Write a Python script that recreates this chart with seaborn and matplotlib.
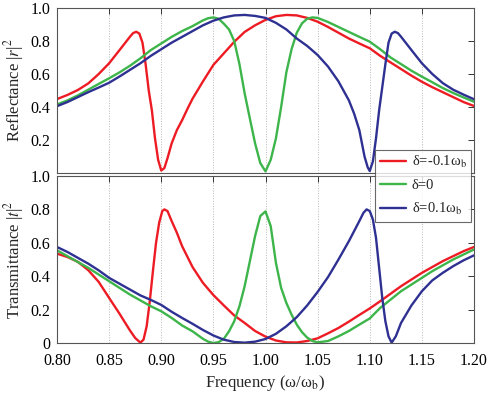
import numpy as np
import pandas as pd
import matplotlib
matplotlib.use('Agg')
import matplotlib.pyplot as plt
import seaborn as sns

# reflectance |r|^2
refl_m_f = [0.80, 0.81, 0.82, 0.83, 0.84, 0.85, 0.86, 0.87, 0.873, 0.876, 0.879, 0.882, 0.885, 0.888,
            0.891, 0.894, 0.897, 0.90, 0.903, 0.906, 0.91, 0.915, 0.92, 0.926, 0.93, 0.94, 0.95, 0.96,
            0.97, 0.98, 0.99, 1.00, 1.01, 1.02, 1.03, 1.04, 1.05, 1.06, 1.07, 1.08, 1.09, 1.10, 1.11,
            1.12, 1.13, 1.14, 1.15, 1.16, 1.17, 1.18, 1.19, 1.20]
refl_m = [0.448, 0.473, 0.503, 0.543, 0.60, 0.665, 0.745, 0.826, 0.848, 0.856, 0.845, 0.79, 0.66, 0.50,
          0.38, 0.21, 0.08, 0.015, 0.03, 0.09, 0.18, 0.26, 0.32, 0.40, 0.45, 0.555, 0.655, 0.725,
          0.795, 0.855, 0.895, 0.928, 0.95, 0.958, 0.955, 0.94, 0.917, 0.885, 0.85, 0.815, 0.785, 0.756, 0.71,
          0.67, 0.63, 0.59, 0.553, 0.52, 0.49, 0.46, 0.43, 0.406]

refl_0_f = [0.80, 0.81, 0.82, 0.83, 0.84, 0.85, 0.86, 0.87, 0.88, 0.89, 0.90, 0.91, 0.92, 0.93, 0.94,
            0.945, 0.95, 0.955, 0.96, 0.965, 0.97, 0.975, 0.98, 0.985, 0.99, 0.995, 1.00, 1.005, 1.01,
            1.015, 1.02, 1.025, 1.03, 1.035, 1.04, 1.045, 1.05, 1.06, 1.07, 1.08, 1.09, 1.10, 1.11,
            1.12, 1.13, 1.14, 1.15, 1.16, 1.17, 1.18, 1.19, 1.20]
refl_0 = [0.415, 0.44, 0.47, 0.505, 0.54, 0.574, 0.61, 0.65, 0.695, 0.745, 0.785, 0.825, 0.86, 0.89, 0.925,
          0.938, 0.943, 0.935, 0.905, 0.87, 0.80, 0.66, 0.483, 0.33, 0.18, 0.06, 0.01, 0.08, 0.21,
          0.40, 0.61, 0.75, 0.85, 0.907, 0.935, 0.943, 0.94, 0.915, 0.885, 0.855, 0.825, 0.796, 0.75,
          0.70, 0.66, 0.62, 0.584, 0.55, 0.515, 0.485, 0.458, 0.432]

refl_p_f = [0.80, 0.81, 0.82, 0.83, 0.84, 0.85, 0.86, 0.87, 0.88, 0.89, 0.90, 0.91, 0.92, 0.93, 0.94,
            0.95, 0.96, 0.97, 0.98, 0.99, 1.00, 1.01, 1.02, 1.03, 1.04, 1.05, 1.06, 1.07, 1.08, 1.085,
            1.09, 1.095, 1.098, 1.10, 1.103, 1.106, 1.109, 1.112, 1.115, 1.118, 1.121, 1.124, 1.127,
            1.13, 1.14, 1.15, 1.16, 1.17, 1.18, 1.19, 1.20]
refl_p = [0.405, 0.43, 0.46, 0.49, 0.518, 0.547, 0.585, 0.625, 0.665, 0.71, 0.75, 0.79, 0.825, 0.86, 0.895,
          0.923, 0.943, 0.955, 0.958, 0.952, 0.94, 0.91, 0.87, 0.815, 0.77, 0.715, 0.645, 0.555, 0.44, 0.36,
          0.26, 0.10, 0.035, 0.012, 0.07, 0.21, 0.38, 0.52, 0.66, 0.79, 0.845, 0.856, 0.848,
          0.826, 0.745, 0.665, 0.60, 0.545, 0.505, 0.475, 0.447]

# transmittance |t|^2
trans_m_f = [0.80, 0.81, 0.82, 0.83, 0.84, 0.85, 0.86, 0.87, 0.875, 0.88, 0.883, 0.886, 0.889, 0.892,
             0.895, 0.898, 0.901, 0.903, 0.906, 0.91, 0.915, 0.92, 0.93, 0.94, 0.95, 0.96, 0.97, 0.98,
             0.99, 1.00, 1.01, 1.02, 1.03, 1.04, 1.05, 1.06, 1.07, 1.08, 1.09, 1.10, 1.11, 1.12, 1.13,
             1.14, 1.15, 1.16, 1.17, 1.18, 1.19, 1.20]
trans_m = [0.535, 0.515, 0.486, 0.436, 0.366, 0.27, 0.175, 0.075, 0.03, 0.002, 0.02, 0.10, 0.25, 0.43,
           0.60, 0.72, 0.79, 0.80, 0.79, 0.73, 0.66, 0.58, 0.455, 0.36, 0.287, 0.225, 0.165, 0.12,
           0.072, 0.038, 0.015, 0.004, 0.003, 0.012, 0.028, 0.058, 0.09, 0.128, 0.168, 0.207, 0.25, 0.295, 0.34,
           0.38, 0.42, 0.455, 0.49, 0.52, 0.55, 0.575]

trans_0_f = [0.80, 0.81, 0.82, 0.83, 0.84, 0.85, 0.86, 0.87, 0.88, 0.89, 0.90, 0.91, 0.92, 0.93, 0.94,
             0.945, 0.95, 0.955, 0.96, 0.965, 0.97, 0.975, 0.98, 0.985, 0.99, 0.995, 1.00, 1.005, 1.01,
             1.015, 1.02, 1.025, 1.03, 1.035, 1.04, 1.045, 1.05, 1.06, 1.07, 1.08, 1.09, 1.10, 1.11,
             1.12, 1.13, 1.14, 1.15, 1.16, 1.17, 1.18, 1.19, 1.20]
trans_0 = [0.555, 0.52, 0.485, 0.45, 0.41, 0.37, 0.33, 0.29, 0.255, 0.22, 0.19, 0.15, 0.105, 0.07, 0.025,
           0.008, 0.0, 0.005, 0.025, 0.07, 0.13, 0.22, 0.34, 0.49, 0.64, 0.76, 0.788, 0.70, 0.48,
           0.33, 0.24, 0.17, 0.11, 0.065, 0.032, 0.012, 0.004, 0.012, 0.04, 0.072, 0.11, 0.147, 0.21,
           0.26, 0.31, 0.35, 0.39, 0.43, 0.465, 0.50, 0.53, 0.56]

trans_p_f = [0.80, 0.81, 0.82, 0.83, 0.84, 0.85, 0.86, 0.87, 0.88, 0.89, 0.90, 0.91, 0.92, 0.93, 0.94,
             0.95, 0.96, 0.97, 0.98, 0.99, 1.00, 1.01, 1.02, 1.03, 1.04, 1.05, 1.06, 1.07, 1.08, 1.09,
             1.094, 1.097, 1.10, 1.103, 1.106, 1.109, 1.112, 1.115, 1.118, 1.121, 1.125, 1.13, 1.14,
             1.15, 1.16, 1.17, 1.18, 1.19, 1.20]
trans_p = [0.575, 0.545, 0.51, 0.475, 0.435, 0.39, 0.355, 0.32, 0.285, 0.258, 0.228, 0.187, 0.15, 0.115, 0.078,
           0.045, 0.02, 0.006, 0.002, 0.008, 0.024, 0.055, 0.10, 0.155, 0.225, 0.306, 0.395, 0.50, 0.61, 0.73,
           0.78, 0.80, 0.79, 0.74, 0.63, 0.45, 0.27, 0.13, 0.04, 0.002, 0.04, 0.12, 0.225,
           0.31, 0.375, 0.42, 0.46, 0.495, 0.525]

labels = [r'δ=-0.1ω$_\mathrm{b}$', 'δ=0', r'δ=0.1ω$_\mathrm{b}$']
colors = ['#ed1c24', '#3db54a', '#2e3192']
xticks = [0.80, 0.85, 0.90, 0.95, 1.00, 1.05, 1.10, 1.15, 1.20]

refl_df = pd.concat([
    pd.DataFrame({'freq': refl_m_f, 'val': refl_m, 'delta': labels[0]}),
    pd.DataFrame({'freq': refl_0_f, 'val': refl_0, 'delta': labels[1]}),
    pd.DataFrame({'freq': refl_p_f, 'val': refl_p, 'delta': labels[2]}),
])
trans_df = pd.concat([
    pd.DataFrame({'freq': trans_m_f, 'val': trans_m, 'delta': labels[0]}),
    pd.DataFrame({'freq': trans_0_f, 'val': trans_0, 'delta': labels[1]}),
    pd.DataFrame({'freq': trans_p_f, 'val': trans_p, 'delta': labels[2]}),
])

sns.set_style('white')
plt.rcParams['font.family'] = ['Liberation Serif', 'DejaVu Serif']
plt.rcParams['mathtext.fontset'] = 'stix'

fig = plt.figure(figsize=(4.88, 3.94), dpi=100)
ax1 = fig.add_axes([57/488, 1-173/394, 417/488, 165/394])
ax2 = fig.add_axes([57/488, 1-343/394, 417/488, 167/394])

pal = dict(zip(labels, colors))
sns.lineplot(data=refl_df, x='freq', y='val', hue='delta', palette=pal, estimator=None,
             sort=False, linewidth=1.7, ax=ax1, legend=False)
sns.lineplot(data=trans_df, x='freq', y='val', hue='delta', palette=pal, estimator=None,
             sort=False, linewidth=1.7, ax=ax2, legend=False)

for ax in (ax1, ax2):
    ax.set_xlim(0.8, 1.2)
    ax.set_ylim(0, 1)
    ax.set_xticks(xticks)
    ax.xaxis.grid(True, linestyle=':', color='#b8b8b8', linewidth=0.7)
    ax.yaxis.grid(False)
    ax.tick_params(direction='in', length=4, width=0.7, colors='#333333', labelsize=11.5,
                   top=True, right=True, pad=5, labelcolor='black')
    for s in ax.spines.values():
        s.set_color('#555555')
        s.set_linewidth(0.8)
    ax.set_xlabel('')

ax1.set_yticks([0.2, 0.4, 0.6, 0.8, 1.0])
ax1.set_yticklabels(['0.2', '0.4', '0.6', '0.8', '1.0'])
ax1.set_xticklabels([])
ax1.set_ylabel(r'Reflectance |$r$|$^2$', fontsize=12, labelpad=3)

ax2.set_yticks([0, 0.2, 0.4, 0.6, 0.8, 1.0])
ax2.set_yticklabels(['0', '0.2', '0.4', '0.6', '0.8', '1.0'])
ax2.set_xticklabels(['%.2f' % t for t in xticks])
ax2.tick_params(axis='x', pad=7)
ax2.set_ylabel(r'Transmittance |$t$|$^2$', fontsize=12, labelpad=3)
ax2.set_xlabel(r'Frequency (ω/ω$_\mathrm{b}$)', fontsize=12, labelpad=3)

handles = ax1.get_lines()[:3]
leg = fig.legend(handles, labels, loc='upper right', bbox_to_anchor=(471/488, 1-150/394),
                 fontsize=10.5, frameon=True, fancybox=False, borderaxespad=0,
                 handlelength=1.8, handletextpad=0.4, borderpad=0.3, labelspacing=0.6)
leg.get_frame().set_edgecolor('#444444')
leg.get_frame().set_linewidth(0.8)
leg.set_zorder(10)

fig.savefig('out.png', dpi=100)
